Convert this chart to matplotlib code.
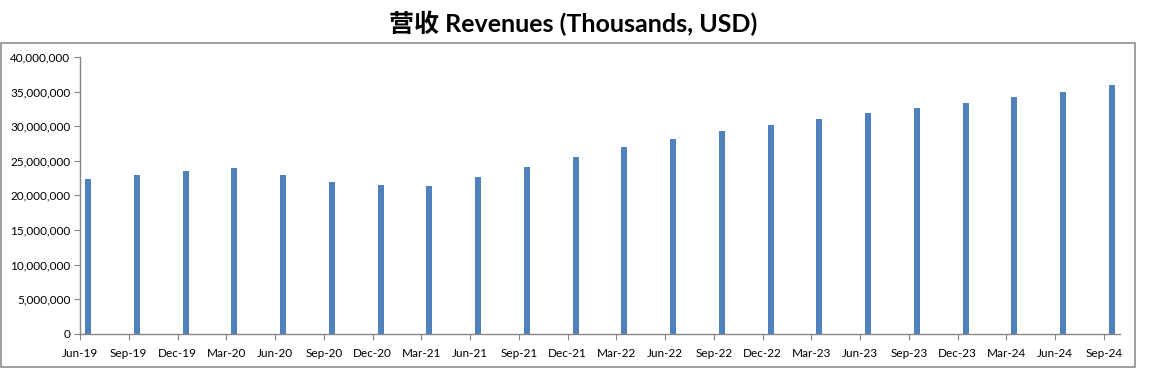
import matplotlib
matplotlib.use('Agg')
import matplotlib.pyplot as plt
from matplotlib.patches import Rectangle
from matplotlib.ticker import FuncFormatter

quarters = ["Jun-19", "Sep-19", "Dec-19", "Mar-20", "Jun-20", "Sep-20", "Dec-20", "Mar-21",
            "Jun-21", "Sep-21", "Dec-21", "Mar-22", "Jun-22", "Sep-22", "Dec-22", "Mar-23",
            "Jun-23", "Sep-23", "Dec-23", "Mar-24", "Jun-24", "Sep-24"]
revenues = [22370000, 23000000, 23580000, 24000000, 23000000, 21940000, 21550000, 21400000,
            22660000, 24110000, 25560000, 27000000, 28160000, 29320000, 30190000, 31040000,
            31920000, 32640000, 33370000, 34240000, 34960000, 35970000]

bar_color = "#4F81BD"
axis_color = "#868686"

fig = plt.figure(figsize=(11.49, 3.77), dpi=100)
ax = fig.add_axes([80 / 1149, 1 - 333.7 / 377, 1040 / 1149, (333.7 - 57) / 377])

# date-style axis: one slot per month, ticks every quarter, bar in the middle of its month
tick_pos = [3 * i for i in range(len(quarters))]
bar_pos = [p + 0.5 for p in tick_pos]
ax.bar(bar_pos, revenues, width=0.37, color=bar_color, zorder=2)

ax.set_xlim(0, tick_pos[-1] + 1)
ax.set_ylim(0, 40000000)
ax.set_yticks(range(0, 40000001, 5000000))
ax.yaxis.set_major_formatter(FuncFormatter(lambda v, p: f"{int(v):,}"))
ax.set_xticks(tick_pos)
ax.set_xticklabels(quarters)

for s in ["top", "right"]:
    ax.spines[s].set_visible(False)
for s in ["left", "bottom"]:
    ax.spines[s].set_color(axis_color)
    ax.spines[s].set_linewidth(1)
ax.tick_params(axis="both", direction="out", length=4, color=axis_color,
               labelsize=8.5, labelcolor="black", pad=3)
ax.tick_params(axis="x", pad=6)
for lbl in ax.get_xticklabels() + ax.get_yticklabels():
    lbl.set_family("Lato")

fig.patches.append(Rectangle((0.5 / 1149, 10 / 377), 1134 / 1149, 324 / 377,
                             transform=fig.transFigure, fill=False,
                             edgecolor="#8C8C8C", linewidth=1.2))

fig.text(0.499, 1 - 23 / 377, "营收 Revenues (Thousands, USD)", ha="center", va="center",
         fontsize=18, fontweight="bold", family=["Lato", "Noto Sans CJK SC"])

fig.savefig("out.png", dpi=100)
